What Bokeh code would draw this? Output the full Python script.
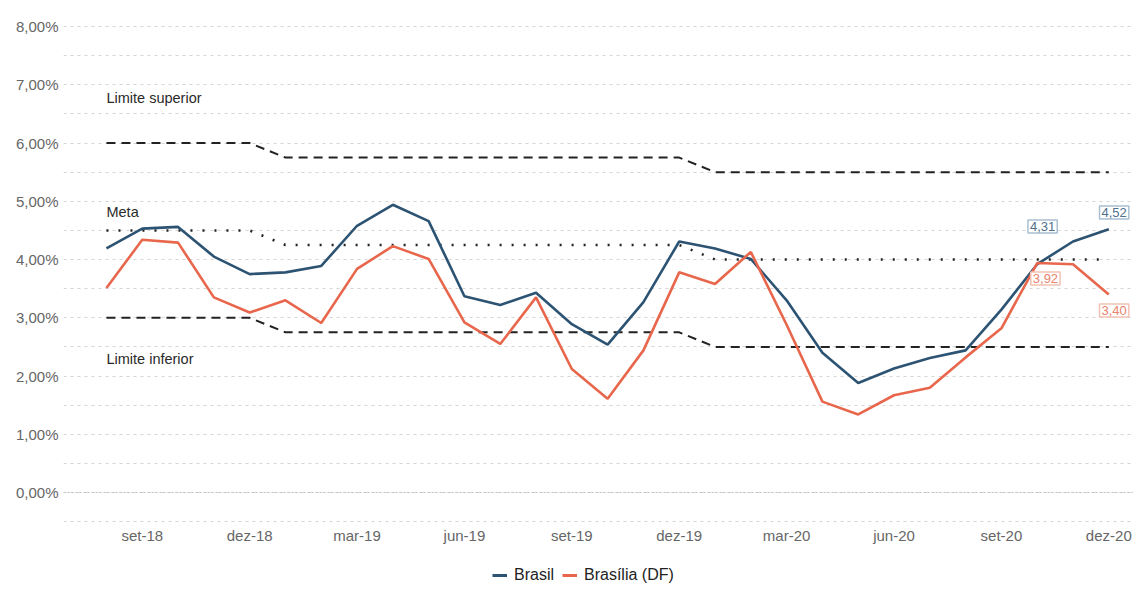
from bokeh.plotting import figure
from bokeh.models import Range1d, FixedTicker, Legend, LegendItem, Label, Span
from bokeh.layouts import column
from bokeh.embed import file_html
from bokeh.resources import INLINE

months = ["ago-18", "set-18", "out-18", "nov-18", "dez-18", "jan-19", "fev-19", "mar-19",
          "abr-19", "mai-19", "jun-19", "jul-19", "ago-19", "set-19", "out-19", "nov-19",
          "dez-19", "jan-20", "fev-20", "mar-20", "abr-20", "mai-20", "jun-20", "jul-20",
          "ago-20", "set-20", "out-20", "nov-20", "dez-20"]
brasil = [4.19, 4.53, 4.56, 4.05, 3.75, 3.78, 3.89, 4.58, 4.94, 4.66, 3.37, 3.22, 3.43, 2.89,
          2.54, 3.27, 4.31, 4.19, 4.01, 3.30, 2.40, 1.88, 2.13, 2.31, 2.44, 3.14, 3.92, 4.31, 4.52]
brasilia = [3.51, 4.34, 4.29, 3.35, 3.09, 3.30, 2.91, 3.84, 4.23, 4.01, 2.92, 2.55, 3.35, 2.12,
            1.61, 2.44, 3.78, 3.58, 4.13, 2.88, 1.56, 1.34, 1.67, 1.80, 2.32, 2.82, 3.94, 3.92, 3.40]
limite_superior = [6.0] * 5 + [5.75] * 12 + [5.5] * 12
meta = [4.5] * 5 + [4.25] * 12 + [4.0] * 12
limite_inferior = [3.0] * 5 + [2.75] * 12 + [2.5] * 12
x_tick_idx = [1, 4, 7, 10, 13, 16, 19, 22, 25, 28]
y_ticks = [0, 1, 2, 3, 4, 5, 6, 7, 8]

idx = list(range(len(months)))
FONT = "Liberation Sans"
BLUE = "#2d5373"
RED = "#e8674c"
W = 1133

p = figure(width=W, height=560, x_range=Range1d(-1.2, 28.69), y_range=Range1d(-0.515, 8.19),
           output_backend="svg", toolbar_location=None,
           min_border_left=63, min_border_right=0, min_border_top=15, min_border_bottom=38)
p.outline_line_color = None
p.background_fill_color = "white"

# axes
p.xaxis.ticker = FixedTicker(ticks=x_tick_idx)
p.xaxis.major_label_overrides = {i: months[i] for i in x_tick_idx}
p.yaxis.ticker = FixedTicker(ticks=y_ticks)
p.yaxis.major_label_overrides = {v: f"{v},00%" for v in y_ticks}
for ax in (p.xaxis, p.yaxis):
    ax.axis_line_color = None
    ax.major_tick_line_color = None
    ax.minor_tick_line_color = None
    ax.major_tick_out = 0
    ax.major_tick_in = 0
    ax.minor_tick_out = 0
    ax.major_label_text_font = FONT
    ax.major_label_text_font_size = "15px"
    ax.major_label_text_color = "#666666"
p.yaxis.major_label_standoff = 5
p.xaxis.major_label_standoff = 4

p.xgrid.visible = False
p.ygrid.ticker = FixedTicker(ticks=[v / 2 for v in range(-1, 17)])
p.ygrid.grid_line_color = "#d4d4d4"
p.ygrid.grid_line_dash = "3 4"
p.ygrid.grid_line_width = 1

p.add_layout(Span(location=0, dimension="width", line_color="#c0c0c0", line_dash="2 2", line_width=1))

# reference lines
p.line(idx, limite_superior, line_color="#222222", line_width=2, line_dash="9 6")
p.line(idx, meta, line_color="#222222", line_width=2.5, line_dash="2 10")
p.line(idx, limite_inferior, line_color="#222222", line_width=2, line_dash="9 6")

# series
p.line(idx, brasil, line_color=BLUE, line_width=2.6)
p.line(idx, brasilia, line_color=RED, line_width=2.6)

# annotations
for txt, yv in (("Limite superior", 6.78), ("Meta", 4.81), ("Limite inferior", 2.30)):
    p.add_layout(Label(x=0, y=yv, text=txt, text_font=FONT, text_font_size="14.5px",
                       text_color="#2a2a2a", text_baseline="middle", text_align="left"))

def value_label(xv, y_val, txt, color, border):
    p.add_layout(Label(x=xv, y=y_val, text=txt, text_font=FONT, text_font_size="13px",
                       text_color=color, text_baseline="middle", text_align="center",
                       border_line_color=border, border_line_width=1.5,
                       background_fill_color="white", padding=2))

value_label(26.15, (492 - 226) / 58.25, "4,31", "#4f6f8c", "#a9bfd2")
value_label(28.15, (492 - 212) / 58.25, "4,52", "#4f6f8c", "#a9bfd2")
value_label(26.23, (492 - 278) / 58.25, "3,92", "#e8836c", "#f4c2b4")
value_label(28.15, (492 - 310) / 58.25, "3,40", "#e8836c", "#f4c2b4")

# legend figure below the chart
lg = figure(width=W, height=49, x_range=Range1d(0, 1), y_range=Range1d(0, 1),
            output_backend="svg", toolbar_location=None,
            min_border_left=0, min_border_right=0, min_border_top=0, min_border_bottom=0)
lg.axis.visible = False
lg.grid.visible = False
lg.outline_line_color = None
nan = float("nan")
l_br = lg.line([nan], [nan], line_color=BLUE, line_width=3)
l_df = lg.line([nan], [nan], line_color=RED, line_width=3)
legend = Legend(items=[LegendItem(label="Brasil", renderers=[l_br]),
                       LegendItem(label="Brasília (DF)", renderers=[l_df])],
                orientation="horizontal", location=(429, 24),
                border_line_alpha=0, background_fill_alpha=0,
                label_text_font=FONT, label_text_font_size="16px", label_text_color="#222222",
                glyph_width=15, glyph_height=20, label_standoff=7, spacing=8,
                margin=0, padding=0)
lg.add_layout(legend, "center")

layout = column(p, lg, spacing=0)
open("out.html", "w").write(file_html(layout, INLINE))
